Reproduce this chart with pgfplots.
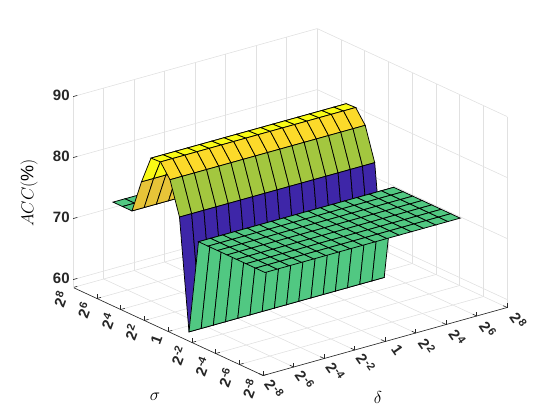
\documentclass[border=0pt]{standalone}
\usepackage{fontspec}
\setmainfont{Liberation Sans}
\usepackage{pgfplots}
\pgfplotsset{compat=1.18}
\usetikzlibrary{calc}
\definecolor{axdark}{RGB}{38,38,38}
\definecolor{gridc}{RGB}{225,225,225}
\pgfplotsset{colormap={parula}{
  rgb(0.000)=(0.2422,0.1504,0.6603)
  rgb(0.143)=(0.2810,0.3228,0.9579)
  rgb(0.286)=(0.1786,0.5289,0.9682)
  rgb(0.429)=(0.0689,0.6948,0.8394)
  rgb(0.571)=(0.2161,0.7843,0.5923)
  rgb(0.714)=(0.6720,0.7793,0.2227)
  rgb(0.857)=(0.9970,0.7659,0.2199)
  rgb(1.000)=(0.9769,0.9839,0.0805)}}
\newcommand{\tl}[1]{2\raisebox{0.6ex}{\fontsize{11}{12}\selectfont\kern0.6pt #1}}
\begin{document}
\begin{tikzpicture}
\begin{axis}[
  x={(12.2pt,3.4pt)}, y={(-9.5pt,4.4pt)}, z={(0pt,6.1pt)},
  xmin=0.85, xmax=20.85, ymin=1, ymax=21, zmin=58.7, zmax=90,
  xtick={0.85,3.35,5.85,8.35,10.85,13.35,15.85,18.35,20.85},
  ytick={1,3.5,6,8.5,11,13.5,16,18.5,21},
  ztick={60,70,80,90},
  axis x line*=bottom, axis y line*=left, axis z line*=left,
  xticklabels={\tl{-8},\tl{-6},\tl{-4},\tl{-2},{\kern-3.5pt\raisebox{3.7pt}[\height][\depth]{1}\kern3.5pt},\tl{2},\tl{4},\tl{6},\tl{8}},
  yticklabels={\tl{-8},\tl{-6},\tl{-4},\tl{-2},1,\tl{2},\tl{4},\tl{6},\tl{8}},
  tick label style={text=axdark},
  z tick label style={font=\fontsize{15}{17}\selectfont\bfseries},
  x tick label style={font=\fontsize{15}{17}\selectfont\bfseries, anchor=center, xshift=11pt, yshift=-13pt, rotate=-55},
  y tick label style={font=\fontsize{15}{17}\selectfont\bfseries, anchor=east, xshift=-9pt, yshift=-1pt, rotate=70},
  /pgf/number format/assume math mode=true,
  grid=major, grid style={gridc, line width=0.6pt},
  axis line style={axdark, line width=0.6pt},
  tick style={axdark, line width=0.6pt},
  xlabel={\fontsize{17}{20}\selectfont$\delta$},
  ylabel={\fontsize{17}{20}\selectfont$\sigma$},
  zlabel={\fontsize{18}{20}\selectfont$ACC(\%)$},
  xlabel style={at={(axis cs:4.24,-6.73,58.7)}, anchor=center},
  ylabel style={at={(axis cs:-7.06,2.23,58.7)}, anchor=center},
  zlabel style={at={(axis cs:1,25.84,70.6)}, anchor=center, rotate=0},
  colormap name=parula,
  point meta=explicit, point meta min=60, point meta max=85.7,
]
\addplot3[surf, shader=flat corner, draw=black, line width=0.75pt] coordinates {
(17,17,75.5)[75.5] (16,17,75.5)[75.5] (15,17,75.5)[75.5] (14,17,75.5)[75.5] (13,17,75.5)[75.5] (12,17,75.5)[75.5] (11,17,75.5)[75.5] (10,17,75.5)[75.5] (9,17,75.5)[75.5] (8,17,75.5)[75.5] (7,17,75.5)[75.5] (6,17,75.5)[75.5] (5,17,75.5)[75.5] (4,17,75.5)[75.5] (3,17,75.5)[75.5] (2,17,75.5)[75.5] (1,17,75.5)[75.5]

(17,16,75.5)[75.5] (16,16,75.5)[75.5] (15,16,75.5)[75.5] (14,16,75.5)[75.5] (13,16,75.5)[75.5] (12,16,75.5)[75.5] (11,16,75.5)[75.5] (10,16,75.5)[75.5] (9,16,75.5)[75.5] (8,16,75.5)[75.5] (7,16,75.5)[75.5] (6,16,75.5)[75.5] (5,16,75.5)[75.5] (4,16,75.5)[75.5] (3,16,75.5)[75.5] (2,16,75.5)[75.5] (1,16,75.5)[75.5]

(17,15,75.5)[81] (16,15,75.5)[81] (15,15,75.5)[81] (14,15,75.5)[81] (13,15,75.5)[81] (12,15,75.5)[81] (11,15,75.5)[81] (10,15,75.5)[81] (9,15,75.5)[81] (8,15,75.5)[81] (7,15,75.5)[81] (6,15,75.5)[81] (5,15,75.5)[81] (4,15,75.5)[81] (3,15,75.5)[81] (2,15,75.5)[81] (1,15,75.5)[81]

(17,14,81)[85.6] (16,14,81)[85.6] (15,14,81)[85.6] (14,14,81)[85.6] (13,14,81)[85.6] (12,14,81)[85.6] (11,14,81)[85.6] (10,14,81)[85.6] (9,14,81)[85.6] (8,14,81)[85.6] (7,14,81)[85.6] (6,14,81)[85.6] (5,14,81)[85.6] (4,14,81)[85.6] (3,14,81)[85.6] (2,14,81)[85.6] (1,14,81)[85.6]

(17,13,85.6)[85.7] (16,13,85.6)[85.7] (15,13,85.6)[85.7] (14,13,85.6)[85.7] (13,13,85.6)[85.7] (12,13,85.6)[85.7] (11,13,85.6)[85.7] (10,13,85.6)[85.7] (9,13,85.6)[85.7] (8,13,85.6)[85.7] (7,13,85.6)[85.7] (6,13,85.6)[85.7] (5,13,85.6)[85.7] (4,13,85.6)[85.7] (3,13,85.6)[85.7] (2,13,85.6)[85.7] (1,13,85.6)[85.7]

(17,12,85.7)[83.5] (16,12,85.7)[83.5] (15,12,85.7)[83.5] (14,12,85.7)[83.5] (13,12,85.7)[83.5] (12,12,85.7)[83.5] (11,12,85.7)[83.5] (10,12,85.7)[83.5] (9,12,85.7)[83.5] (8,12,85.7)[83.5] (7,12,85.7)[83.5] (6,12,85.7)[83.5] (5,12,85.7)[83.5] (4,12,85.7)[83.5] (3,12,85.7)[83.5] (2,12,85.7)[83.5] (1,12,85.7)[83.5]

(17,11,83.5)[78.1] (16,11,83.5)[78.1] (15,11,83.5)[78.1] (14,11,83.5)[78.1] (13,11,83.5)[78.1] (12,11,83.5)[78.1] (11,11,83.5)[78.1] (10,11,83.5)[78.1] (9,11,83.5)[78.1] (8,11,83.5)[78.1] (7,11,83.5)[78.1] (6,11,83.5)[78.1] (5,11,83.5)[78.1] (4,11,83.5)[78.1] (3,11,83.5)[78.1] (2,11,83.5)[78.1] (1,11,83.5)[78.1]

(17,10,78.1)[60] (16,10,78.1)[60] (15,10,78.1)[60] (14,10,78.1)[60] (13,10,78.1)[60] (12,10,78.1)[60] (11,10,78.1)[60] (10,10,78.1)[60] (9,10,78.1)[60] (8,10,78.1)[60] (7,10,78.1)[60] (6,10,78.1)[60] (5,10,78.1)[60] (4,10,78.1)[60] (3,10,78.1)[60] (2,10,78.1)[60] (1,10,78.1)[60]

(17,9,60)[75.5] (16,9,60)[75.5] (15,9,60)[75.5] (14,9,60)[75.5] (13,9,60)[75.5] (12,9,60)[75.5] (11,9,60)[75.5] (10,9,60)[75.5] (9,9,60)[75.5] (8,9,60)[75.5] (7,9,60)[75.5] (6,9,60)[75.5] (5,9,60)[75.5] (4,9,60)[75.5] (3,9,60)[75.5] (2,9,60)[75.5] (1,9,60)[75.5]

(17,8,75.5)[75.5] (16,8,75.5)[75.5] (15,8,75.5)[75.5] (14,8,75.5)[75.5] (13,8,75.5)[75.5] (12,8,75.5)[75.5] (11,8,75.5)[75.5] (10,8,75.5)[75.5] (9,8,75.5)[75.5] (8,8,75.5)[75.5] (7,8,75.5)[75.5] (6,8,75.5)[75.5] (5,8,75.5)[75.5] (4,8,75.5)[75.5] (3,8,75.5)[75.5] (2,8,75.5)[75.5] (1,8,75.5)[75.5]

(17,7,75.5)[75.5] (16,7,75.5)[75.5] (15,7,75.5)[75.5] (14,7,75.5)[75.5] (13,7,75.5)[75.5] (12,7,75.5)[75.5] (11,7,75.5)[75.5] (10,7,75.5)[75.5] (9,7,75.5)[75.5] (8,7,75.5)[75.5] (7,7,75.5)[75.5] (6,7,75.5)[75.5] (5,7,75.5)[75.5] (4,7,75.5)[75.5] (3,7,75.5)[75.5] (2,7,75.5)[75.5] (1,7,75.5)[75.5]

(17,6,75.5)[75.5] (16,6,75.5)[75.5] (15,6,75.5)[75.5] (14,6,75.5)[75.5] (13,6,75.5)[75.5] (12,6,75.5)[75.5] (11,6,75.5)[75.5] (10,6,75.5)[75.5] (9,6,75.5)[75.5] (8,6,75.5)[75.5] (7,6,75.5)[75.5] (6,6,75.5)[75.5] (5,6,75.5)[75.5] (4,6,75.5)[75.5] (3,6,75.5)[75.5] (2,6,75.5)[75.5] (1,6,75.5)[75.5]

(17,5,75.5)[75.5] (16,5,75.5)[75.5] (15,5,75.5)[75.5] (14,5,75.5)[75.5] (13,5,75.5)[75.5] (12,5,75.5)[75.5] (11,5,75.5)[75.5] (10,5,75.5)[75.5] (9,5,75.5)[75.5] (8,5,75.5)[75.5] (7,5,75.5)[75.5] (6,5,75.5)[75.5] (5,5,75.5)[75.5] (4,5,75.5)[75.5] (3,5,75.5)[75.5] (2,5,75.5)[75.5] (1,5,75.5)[75.5]

(17,4,75.5)[75.5] (16,4,75.5)[75.5] (15,4,75.5)[75.5] (14,4,75.5)[75.5] (13,4,75.5)[75.5] (12,4,75.5)[75.5] (11,4,75.5)[75.5] (10,4,75.5)[75.5] (9,4,75.5)[75.5] (8,4,75.5)[75.5] (7,4,75.5)[75.5] (6,4,75.5)[75.5] (5,4,75.5)[75.5] (4,4,75.5)[75.5] (3,4,75.5)[75.5] (2,4,75.5)[75.5] (1,4,75.5)[75.5]

(17,3,75.5)[75.5] (16,3,75.5)[75.5] (15,3,75.5)[75.5] (14,3,75.5)[75.5] (13,3,75.5)[75.5] (12,3,75.5)[75.5] (11,3,75.5)[75.5] (10,3,75.5)[75.5] (9,3,75.5)[75.5] (8,3,75.5)[75.5] (7,3,75.5)[75.5] (6,3,75.5)[75.5] (5,3,75.5)[75.5] (4,3,75.5)[75.5] (3,3,75.5)[75.5] (2,3,75.5)[75.5] (1,3,75.5)[75.5]

(17,2,75.5)[75.5] (16,2,75.5)[75.5] (15,2,75.5)[75.5] (14,2,75.5)[75.5] (13,2,75.5)[75.5] (12,2,75.5)[75.5] (11,2,75.5)[75.5] (10,2,75.5)[75.5] (9,2,75.5)[75.5] (8,2,75.5)[75.5] (7,2,75.5)[75.5] (6,2,75.5)[75.5] (5,2,75.5)[75.5] (4,2,75.5)[75.5] (3,2,75.5)[75.5] (2,2,75.5)[75.5] (1,2,75.5)[75.5]

(17,1,75.5)[75.5] (16,1,75.5)[75.5] (15,1,75.5)[75.5] (14,1,75.5)[75.5] (13,1,75.5)[75.5] (12,1,75.5)[75.5] (11,1,75.5)[75.5] (10,1,75.5)[75.5] (9,1,75.5)[75.5] (8,1,75.5)[75.5] (7,1,75.5)[75.5] (6,1,75.5)[75.5] (5,1,75.5)[75.5] (4,1,75.5)[75.5] (3,1,75.5)[75.5] (2,1,75.5)[75.5] (1,1,75.5)[75.5]
};
\coordinate (fc) at (axis cs:1,1,58.7);
\end{axis}
\pgfresetboundingbox
\path[use as bounding box] ($(fc)+(-265pt,-45pt)$) rectangle ($(fc)+(295pt,375pt)$);
\end{tikzpicture}
\end{document}
